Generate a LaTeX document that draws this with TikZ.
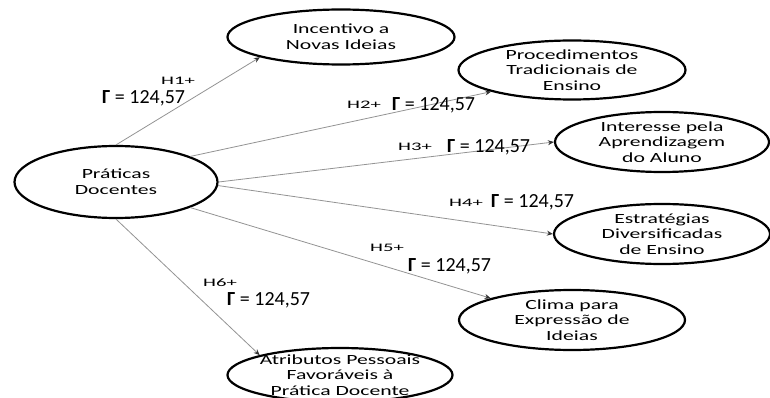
\documentclass[tikz,border=0pt]{standalone}
\usepackage{fontspec}
\setmainfont{Carlito}
\newfontfamily\ovalfont{Carlito}[FakeStretch=1.55]
\newfontfamily\hypfont{Carlito}[FakeStretch=1.8]
\usetikzlibrary{shapes.geometric, arrows.meta}
\tikzstyle{arrow} = [draw=gray!85, line width=0.8pt, -{Stealth[length=6pt,width=5pt,color=black!80]}]

\begin{document}
\begin{tikzpicture}[x=1pt, y=-1pt,
		construct/.style={ellipse, draw=black, line width=2.2pt, align=center, inner xsep=-4pt, inner ysep=-8pt, font=\ovalfont\fontsize{14}{15.7}\selectfont},
		hyp/.style={anchor=west, inner sep=0pt, font=\hypfont\fontsize{11.5}{13}\selectfont},
		coef/.style={anchor=west, inner sep=0pt, font=\fontsize{20}{24}\selectfont}]
		
		\useasboundingbox (0,0) rectangle (770,398);
		\clip (0,0) rectangle (770,398);
		
		\node (pd) [construct, minimum width=203pt, minimum height=72pt] at (116,182) {Práticas\\Docentes};
		\node (inc) [construct, minimum width=227pt, minimum height=55pt] at (341,37) {Incentivo a\\Novas Ideias};
		\node (proc) [construct, minimum width=227pt, minimum height=59pt] at (572,70) {Procedimentos\\Tradicionais de\\Ensino};
		\node (int) [construct, minimum width=214pt, minimum height=60pt] at (662,142) {Interesse pela\\Aprendizagem\\do Aluno};
		\node (est) [construct, minimum width=216pt, minimum height=60pt] at (662,234) {Estratégias\\Diversificadas\\de Ensino};
		\node (clima) [construct, minimum width=226pt, minimum height=60pt] at (572,320) {Clima para\\Expressão de\\Ideias};
		\node (atr) [construct, minimum width=225pt, minimum height=54pt] at (340,375) {Atributos Pessoais\\Favoráveis à\\Prática Docente};
		
		\draw[arrow] (pd.north) -- (inc.south west);
		\draw[arrow] (pd.19) -- (proc.195);
		\draw[arrow] (pd.east) -- (int.west);
		\draw[arrow] (pd.-2) -- (est.west);
		\draw[arrow] (pd.-19) -- (clima.165);
		\draw[arrow] (pd.south) -- (atr.north west);
		
		% hypotheses and coefficients
		\node (h1) [hyp] at (161,81) {H1+};
		\node (g1) [coef] at (102,98) {\textbf{Γ} = 124,57};
		\node (h2) [hyp] at (347,105) {H2+};
		\node (g2) [coef] at (392,105) {\textbf{Γ} = 124,57};
		\node (h3) [hyp] at (398,147) {H3+};
		\node (g3) [coef] at (447,147) {\textbf{Γ} = 124,57};
		\node (h4) [hyp] at (449,203) {H4+};
		\node (g4) [coef] at (491,202) {\textbf{Γ} = 124,57};
		\node (h5) [hyp] at (370,248) {H5+};
		\node (g5) [coef] at (408,266) {\textbf{Γ} = 124,57};
		\node (h6) [hyp] at (203,283) {H6+};
		\node (g6) [coef] at (227,300) {\textbf{Γ} = 124,57};
	\end{tikzpicture}
\end{document}
